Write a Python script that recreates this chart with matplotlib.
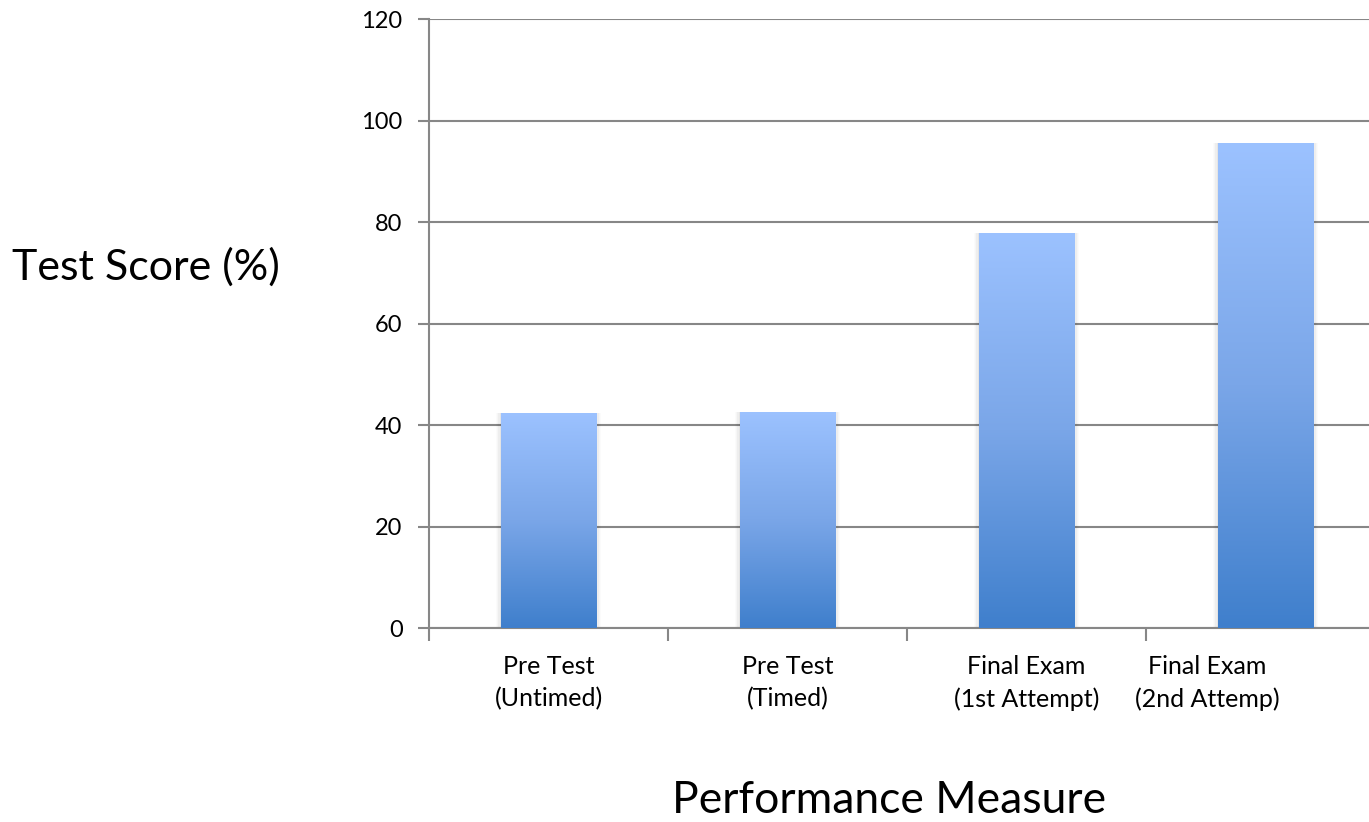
import numpy as np
import matplotlib
matplotlib.use("Agg")
import matplotlib.pyplot as plt
from matplotlib.colors import LinearSegmentedColormap
from matplotlib.transforms import ScaledTranslation

categories = ["Pre Test\n(Untimed)", "Pre Test\n(Timed)",
              "Final Exam\n(1st Attempt)", "Final Exam\n(2nd Attemp)"]
scores = [42.4, 42.6, 77.9, 95.6]
y_ticks = [0, 20, 40, 60, 80, 100, 120]

plt.rcParams["font.family"] = ["Lato", "DejaVu Sans"]

fig = plt.figure(figsize=(13.69, 8.22), dpi=100)
ax = fig.add_axes([429 / 1369, 193.7 / 822, 956 / 1369, 609 / 822])

x = np.arange(len(categories))
bar_width = 0.40
bars = ax.bar(x, scores, width=bar_width, color="none", zorder=3)

# vertical blue gradient clipped to each bar
cmap = LinearSegmentedColormap.from_list("barblue", ["#3F7FCC", "#7AA6E8", "#9CC2FF"])
grad = np.linspace(0, 1, 256).reshape(-1, 1)
for b, h in zip(bars, scores):
    x0 = b.get_x()
    # soft shadow around the bar
    for k, a in enumerate([0.04, 0.03, 0.02, 0.015]):
        pad = 0.005 * (k + 1)
        ax.add_patch(plt.Rectangle((x0 - pad, 0), b.get_width() + 2 * pad, h + pad * 4,
                                   color="black", alpha=a, lw=0, zorder=2.5))
    im = ax.imshow(grad, cmap=cmap, aspect="auto", origin="lower",
                   extent=[x0, x0 + b.get_width(), 0, h], zorder=3)
    im.set_clip_path(b)

ax.set_xlim(-0.5, 3.5)
ax.set_ylim(0, 120)
ax.set_yticks(y_ticks)
ax.set_yticklabels([str(v) for v in y_ticks], fontsize=17)

ax.yaxis.grid(True, color="#878787", linewidth=1.5, zorder=1)
ax.set_axisbelow(True)

# category labels at bar centers, boundary tick marks between categories
ax.set_xticks(x)
ax.set_xticklabels(categories, fontsize=18, linespacing=1.5)
ax.tick_params(axis="x", which="major", length=0, pad=19)
ax.set_xticks(np.arange(-0.5, 3.5, 1.0), minor=True)
ax.tick_params(axis="x", which="minor", length=9, width=1.5, color="#878787", direction="out")
ax.tick_params(axis="y", length=8, width=1.5, color="#878787", pad=11)

last = ax.get_xticklabels()[-1]
last.set_transform(last.get_transform() + ScaledTranslation(-58.5 / 100, 0, fig.dpi_scale_trans))

for side in ["top", "right"]:
    ax.spines[side].set_visible(False)
for side in ["left", "bottom"]:
    ax.spines[side].set_color("#878787")
    ax.spines[side].set_linewidth(1.5)

fig.text(146 / 1369, 1 - 267 / 822, "Test Score (%)", fontsize=31, ha="center", va="center")
fig.text(889 / 1369, 1 - 800 / 822, "Performance Measure", fontsize=32, ha="center", va="center")

fig.savefig("out.png", dpi=100)
